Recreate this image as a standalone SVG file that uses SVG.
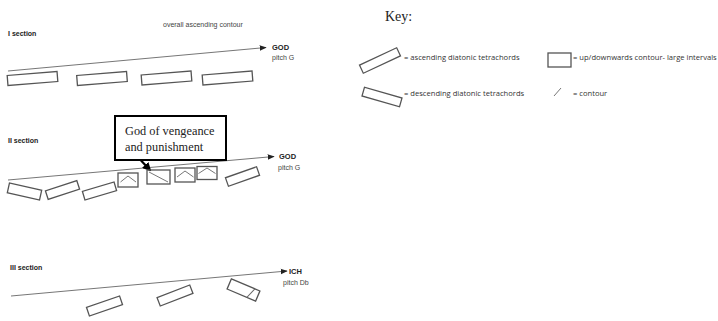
<svg xmlns="http://www.w3.org/2000/svg" width="718" height="321" viewBox="0 0 718 321">
<defs>
<marker id="ah" viewBox="0 0 10 10" refX="9" refY="5" markerWidth="7" markerHeight="7" markerUnits="userSpaceOnUse" orient="auto">
<path d="M0,1 L10,5 L0,9 Z" fill="#222"/>
</marker>
<marker id="ahb" viewBox="0 0 10 10" refX="8" refY="5" markerWidth="4" markerHeight="4" orient="auto">
<path d="M0,0 L10,5 L0,10 Z" fill="#000"/>
</marker>
<style>
.t{fill:none;stroke:#555;stroke-width:1.3}
.sq{fill:none;stroke:#555;stroke-width:1.3}
.in{fill:none;stroke:#666;stroke-width:0.9}
.ln{fill:none;stroke:#666;stroke-width:0.9}
.lbl{font-family:"Liberation Sans",Arial,sans-serif;font-size:7px;font-weight:bold;fill:#222}
.sm{font-family:"Liberation Sans",Arial,sans-serif;font-size:7px;fill:#444}
.god{font-family:"Liberation Sans",Arial,sans-serif;font-size:7.5px;font-weight:bold;fill:#222}
.key{font-family:"Open Sans","Liberation Sans",sans-serif;font-size:7.6px;fill:#333}
.ser{font-family:"Liberation Serif","Times New Roman",serif;fill:#222}
</style>
</defs>
<rect width="718" height="321" fill="#fff"/>

<g id="connectors">
<line class="ln" x1="8" y1="71" x2="266" y2="47.5" marker-end="url(#ah)"/>
<line class="ln" x1="8" y1="180" x2="274" y2="156.5" marker-end="url(#ah)"/>
<line class="ln" x1="11" y1="296" x2="287" y2="271" marker-end="url(#ah)"/>
<line x1="141" y1="160.5" x2="150" y2="170" stroke="#000" stroke-width="2.2" marker-end="url(#ahb)"/>
</g>

<g id="section1">
<text class="lbl" x="8" y="36">I section</text>
<text class="sm" x="163" y="27">overall ascending contour</text>
<text class="god" x="272" y="50">GOD</text>
<text class="sm" x="272" y="60">pitch G</text>
<g id="s1-r1" transform="translate(32.5,78.5) rotate(-4.5)"><rect class="t" x="-25" y="-5" width="50" height="10"/></g>
<g id="s1-r2" transform="translate(102,78.5) rotate(-4.5)"><rect class="t" x="-25" y="-5" width="50" height="10"/></g>
<g id="s1-r3" transform="translate(166.5,78) rotate(-4.5)"><rect class="t" x="-25" y="-5" width="50" height="10"/></g>
<g id="s1-r4" transform="translate(227.5,78) rotate(-4.5)"><rect class="t" x="-25" y="-5" width="50" height="10"/></g>
</g>

<g id="section2">
<text class="lbl" x="8" y="143">II section</text>
<text class="god" x="279" y="159">GOD</text>
<text class="sm" x="278" y="170">pitch G</text>
<g id="s2-r1" transform="translate(24.5,191.5) rotate(12.5)"><rect class="t" x="-16.5" y="-5" width="33" height="10"/></g>
<g id="s2-r2" transform="translate(62.5,190) rotate(-18)"><rect class="t" x="-16.5" y="-4.5" width="33" height="9"/></g>
<g id="s2-r3" transform="translate(99.5,191) rotate(-16.5)"><rect class="t" x="-16.5" y="-4.5" width="33" height="9"/></g>
<g id="s2-b1"><rect class="sq" x="118" y="173" width="20" height="14"/><polyline class="in" points="120.5,182 128,176 136,182"/></g>
<g id="s2-b2"><rect class="sq" x="147" y="170" width="23" height="14"/><line class="in" x1="149" y1="172" x2="168" y2="182"/></g>
<g id="s2-b3"><rect class="sq" x="175" y="168" width="20" height="14"/><polyline class="in" points="177,177 185,171 193.5,177"/></g>
<g id="s2-b4"><rect class="sq" x="197" y="166.5" width="20" height="13"/><polyline class="in" points="198.5,173.5 207,168 215.5,173.5"/></g>
<g id="s2-r4" transform="translate(242.5,176.5) rotate(-19.5)"><rect class="t" x="-16.5" y="-4.5" width="33" height="9"/></g>
<g id="callout">
<rect x="115" y="116" width="111" height="44" fill="#fff" stroke="#000" stroke-width="2"/>
<text class="ser" x="125" y="135" font-size="12.3">God of vengeance</text>
<text class="ser" x="125" y="151" font-size="12.3">and punishment</text>
</g>
</g>

<g id="section3">
<text class="lbl" x="10" y="270">III section</text>
<text class="god" x="289" y="274">ICH</text>
<text class="sm" x="283" y="285">pitch Db</text>
<g id="s3-r1" transform="translate(104.5,306) rotate(-19)"><rect class="t" x="-17.5" y="-4.5" width="35" height="9"/></g>
<g id="s3-r2" transform="translate(175,295.5) rotate(-21)"><rect class="t" x="-17.5" y="-4.5" width="35" height="9"/></g>
<g id="s3-r3" transform="translate(243.5,290) rotate(23)"><rect class="t" x="-15.5" y="-5.5" width="31" height="11"/><line class="in" x1="10" y1="-5.5" x2="6" y2="5.5"/></g>
</g>

<g id="key">
<text class="ser" x="385" y="21" font-size="14">Key:</text>
<g id="key-asc" transform="translate(380,60.5) rotate(-25)"><rect class="t" x="-20.5" y="-4.5" width="41" height="9"/></g>
<text class="key" x="404" y="60">= ascending diatonic tetrachords</text>
<g id="key-desc" transform="translate(382,97) rotate(16)"><rect class="t" x="-19.5" y="-4.5" width="39" height="9"/></g>
<text class="key" x="404" y="96">= descending diatonic tetrachords</text>
<g id="key-sq"><rect class="t" x="548" y="53" width="23" height="14"/></g>
<text class="key" x="573" y="60">= up/downwards contour- large intervals</text>
<g id="key-line"><line class="in" x1="554" y1="96" x2="561" y2="88"/></g>
<text class="key" x="573" y="96">= contour</text>
</g>
</svg>
